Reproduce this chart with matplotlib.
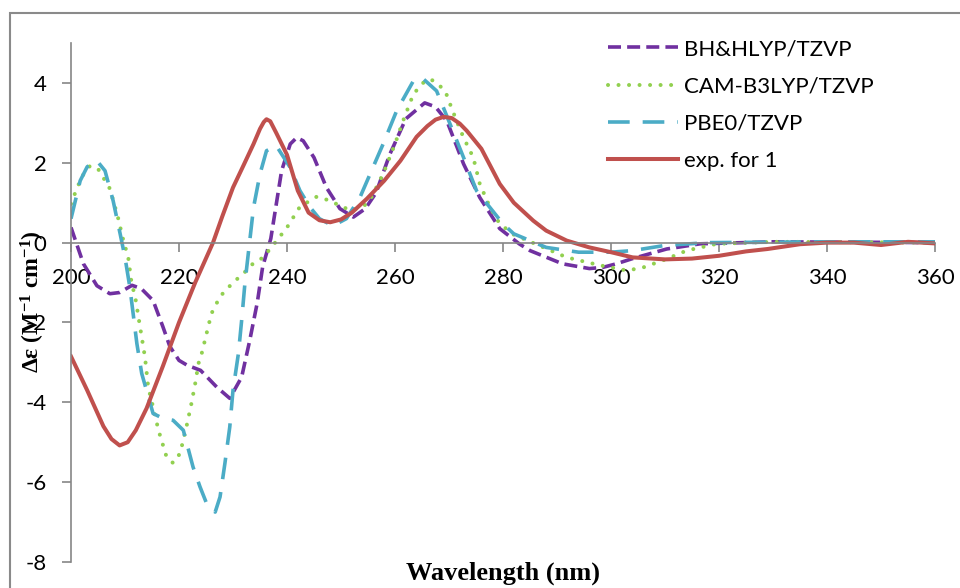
import matplotlib
matplotlib.use('Agg')
import matplotlib.pyplot as plt
from matplotlib.patches import Rectangle

# 資料
bh_x = [200, 202.3, 204.8, 207.2, 209, 211.3, 213, 215.2, 217, 218.3, 220, 221.5, 224, 227,
        229.4, 231.6, 233.1, 234.5, 235.5, 237, 239, 240.6, 241.8, 243, 245, 247.3, 249.8,
        252.3, 254.5, 256.5, 259, 262, 265.5, 267.5, 269.6, 272.7, 275.7, 279.4, 283, 285,
        291, 296, 298.5, 301, 304, 310.3, 316.5, 330, 345, 360]
bh_y = [0.38, -0.53, -1.08, -1.28, -1.25, -1.07, -1.15, -1.45, -2.1, -2.6, -2.95, -3.07,
        -3.2, -3.62, -3.9, -3.37, -2.45, -1.5, -0.6, 0.1, 1.8, 2.47, 2.63, 2.55, 2.13, 1.38,
        0.85, 0.64, 0.85, 1.25, 2.2, 3.1, 3.5, 3.4, 3.05, 1.97, 1.13, 0.35, -0.03, -0.2,
        -0.53, -0.65, -0.62, -0.53, -0.4, -0.16, -0.03, 0.02, 0.01, 0.0]

cam_x = [200, 200.7, 202, 203.5, 205, 207.2, 208.7, 209.7, 210.6, 211.2, 211.9, 212.8,
         213.7, 214.3, 215.2, 216.2, 217.7, 218.9, 220.2, 221.4, 222.3, 223, 223.6, 224.2,
         225.1, 226, 227.6, 230, 231.9, 233.5, 235.6, 238.1, 240, 242.4, 245.5, 248, 250.4,
         252, 254, 255.5, 257.8, 260, 261.5, 263.4, 265.2, 266.5, 267.7, 269.3, 270.2,
         271.4, 272.7, 274.5, 275.7, 277.6, 279.4, 282, 287.5, 291.8, 298, 303, 306, 310.3,
         314, 319.6, 330, 345, 360]
cam_y = [0.97, 1.22, 1.65, 1.92, 1.85, 1.35, 0.63, 0.05, -0.37, -1.0, -1.37, -2.12, -2.87,
         -3.62, -4.12, -4.7, -5.37, -5.52, -5.28, -4.6, -4.03, -3.53, -3.03, -2.78, -2.28,
         -1.78, -1.35, -1.0, -0.78, -0.55, -0.37, 0.05, 0.38, 0.9, 1.15, 1.05, 0.88, 0.82,
         0.88, 1.1, 1.72, 2.47, 3.05, 3.72, 4.0, 4.1, 4.0, 3.8, 3.47, 3.05, 2.63, 2.13,
         1.47, 0.88, 0.47, 0.2, -0.12, -0.37, -0.57, -0.7, -0.62, -0.41, -0.2, -0.03, 0.02,
         0.01, 0.0]

pbe_x = [200, 201.7, 203, 204.8, 206.3, 207.8, 209.1, 210, 210.9, 212.2, 213.1, 215.2, 217,
         218.9, 220.8, 222.6, 223.9, 225.1, 226.7, 227.6, 228.5, 229.4, 230, 231, 231.6,
         232.2, 233.8, 235, 236.2, 238, 240.6, 242.4, 244.3, 246, 248.5, 251, 253.5, 257.8,
         260.3, 263.4, 265, 267.7, 270.2, 272.7, 275.1, 280, 282, 288, 294, 300, 304, 310,
         318, 340, 360]
pbe_y = [0.6, 1.55, 1.9, 2.05, 1.8, 1.05, 0.22, -0.37, -1.12, -2.53, -3.28, -4.28, -4.4,
         -4.45, -4.7, -5.62, -6.12, -6.53, -6.75, -6.37, -5.53, -4.62, -3.7, -2.78, -1.95,
         -1.03, 0.88, 1.72, 2.3, 2.43, 1.88, 1.3, 0.88, 0.6, 0.42, 0.6, 1.13, 2.47, 3.3,
         4.05, 4.13, 3.8, 2.97, 2.13, 1.3, 0.47, 0.22, -0.12, -0.24, -0.24, -0.2, -0.07,
         0.0, 0.02, 0.02]

exp_x = [200, 203, 206, 207.5, 209, 210.5, 212, 214, 217, 220, 223, 226.3, 228, 230, 232,
         233.8, 235, 235.7, 236.2, 236.9, 238, 240, 242, 244, 246, 248, 250, 252, 254.8,
         258, 261, 264, 266, 267.5, 269, 270.5, 272, 273.3, 276, 279.4, 282, 285.6, 288,
         291.8, 296, 300, 304, 310, 315, 320, 325, 329, 335, 340, 345, 350, 355, 360]
exp_y = [-2.85, -3.7, -4.6, -4.92, -5.08, -5.0, -4.7, -4.15, -3.1, -2.0, -1.0, 0.0, 0.65,
         1.38, 1.95, 2.47, 2.85, 3.02, 3.09, 3.04, 2.75, 2.2, 1.3, 0.75, 0.56, 0.51, 0.58,
         0.75, 1.1, 1.55, 2.05, 2.65, 2.92, 3.08, 3.15, 3.12, 2.98, 2.8, 2.35, 1.47, 1.0,
         0.55, 0.3, 0.05, -0.12, -0.24, -0.37, -0.42, -0.4, -0.33, -0.22, -0.16, -0.04,
         0.0, 0.0, -0.06, 0.02, -0.02]

labels = ['BH&HLYP/TZVP', 'CAM-B3LYP/TZVP', 'PBE0/TZVP', 'exp. for 1']
x_ticks = [200, 220, 240, 260, 280, 300, 320, 340, 360]
y_ticks = [-8, -6, -4, -2, 0, 2, 4]

plt.rcParams['axes.unicode_minus'] = False
plt.rcParams['mathtext.fontset'] = 'custom'
plt.rcParams['mathtext.rm'] = 'Liberation Serif:bold'
plt.rcParams['mathtext.bf'] = 'Liberation Serif:bold'
plt.rcParams['mathtext.default'] = 'bf'

fig = plt.figure(figsize=(9.6, 5.88), dpi=100)
ax = fig.add_axes([71 / 960, 1 - 562 / 588, 864 / 960, 519 / 588])

# 外框
fig.patches.append(Rectangle((10 / 960, -0.05), 1.0, 1 - 13 / 588 + 0.05,
                             transform=fig.transFigure, fill=False,
                             edgecolor='#8a8a8a', lw=1.5))

# 曲線
ax.plot(bh_x, bh_y, color='#7030A0', lw=2.6, dashes=(3.6, 1.7), label=labels[0])
ax.plot(cam_x, cam_y, color='#92D050', lw=2.9, dashes=(0.01, 2.6),
        dash_capstyle='round', label=labels[1])
ax.plot(pbe_x, pbe_y, color='#4BACC6', lw=2.6, dashes=(6.0, 3.6), label=labels[2])
ax.plot(exp_x, exp_y, color='#C0504D', lw=2.9, label=labels[3])

ax.set_xlim(200, 360)
ax.set_ylim(-8, 5)

# 座標軸
for s in ['top', 'right']:
    ax.spines[s].set_visible(False)
ax.spines['bottom'].set_position(('data', 0))
ax.spines['left'].set_color('#868686')
ax.spines['bottom'].set_color('#868686')
ax.spines['left'].set_linewidth(1.2)
ax.spines['bottom'].set_linewidth(1.2)
ax.set_xticks(x_ticks)
ax.set_yticks(y_ticks)
ax.tick_params(axis='both', direction='out', length=6.5, width=1.2, color='#868686',
               labelsize=16)
ax.tick_params(axis='x', pad=12)
ax.tick_params(axis='y', pad=11)
for t in ax.get_xticklabels() + ax.get_yticklabels():
    t.set_family('Lato')

# 軸標題
fig.text(503 / 960, 1 - 573 / 588, 'Wavelength (nm)', ha='center', va='center',
         family='Liberation Serif', weight='bold', fontsize=19)
fig.text(33 / 960, 1 - 302 / 588, r'Δε (M$^{-1}$ cm$^{-1}$)', ha='center', va='center',
         rotation=90, family='Liberation Serif', weight='bold', fontsize=17)

leg = ax.legend(loc='upper left', frameon=False,
                handlelength=3.15, handletextpad=0.25, labelspacing=0.78,
                borderaxespad=0, borderpad=0, prop={'family': 'Lato', 'size': 16})
leg.set_bbox_to_anchor((608 / 960, 1 - 39 / 588), transform=fig.transFigure)

fig.savefig('out.png', dpi=100)
